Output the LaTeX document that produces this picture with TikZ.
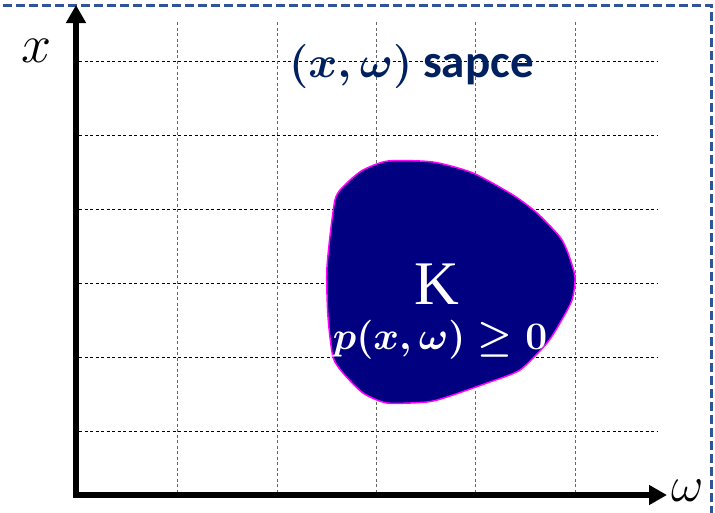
\documentclass[tikz,border=0pt]{standalone}
\usepackage{fix-cm}
\usepackage{amsmath}
\usepackage{fontspec}
\newfontfamily\carlitofont{Carlito}
\newfontfamily\kfont{Liberation Serif}
\usetikzlibrary{arrows.meta}
\definecolor{navy}{RGB}{0,0,128}
\definecolor{titleblue}{RGB}{0,32,96}
\definecolor{frameblue}{RGB}{47,85,151}
\definecolor{blobedge}{RGB}{255,0,255}
\begin{document}
\begin{tikzpicture}[x=1pt,y=-1pt,
  gridh/.style={black, line width=0.9pt, dash pattern=on 3pt off 2.5pt},
  gridv/.style={black!60, line width=1pt, dash pattern=on 3pt off 2.5pt},
  axisline/.style={line width=6pt, line join=miter,
    {Triangle[length=18pt,width=19pt]}-{Triangle[length=18pt,width=19pt]}},
  framestyle/.style={frameblue, line width=3pt, dash pattern=on 9pt off 4pt},
  blobstyle/.style={fill=navy, draw=blobedge, line width=1.5pt},
  lbl/.style={anchor=base, inner sep=0pt}
]
\useasboundingbox (0,0) rectangle (715,512);
% frame (partly outside the picture)
\coordinate (fa) at (-10,5);
\coordinate (fb) at (711,5);
\coordinate (fc) at (711,530);
\draw[framestyle] (fa) -- (fb) -- (fc);
% grid
\foreach \y in {61,135,209,283,357,431} \draw[gridh] (79,\y) -- (658,\y);
\foreach \x in {177.5,277,376,475,575.5} \draw[gridv] (\x,22) -- (\x,492);
% region K
\path[blobstyle] plot[smooth cycle, tension=0.4] coordinates {(388,161) (433,162) (473,173) (513,195) (537,213) (560,237) (568,253) (575,277) (572,300) (560,323) (547,343) (520,370) (487,383) (447,397) (427,402) (387,403) (363,393) (343,373) (333,357) (328,317) (327,267) (335,200) (347,183) (363,170)};
% axes
\coordinate (O) at (76,495);
\coordinate (xtip) at (76,5);
\coordinate (wtip) at (667,495);
\draw[axisline] (xtip) -- (O) -- (wtip);
% labels
\node[lbl, font=\fontsize{54}{54}\selectfont] (xl) at (36.5,62) {$x$};
\node[lbl, font=\fontsize{50}{50}\selectfont] (wl) at (688,501) {$\omega$};
\node[lbl, anchor=base west, text=titleblue, font=\fontsize{44}{44}\selectfont] (titlemath) at (289,77) {$\boldsymbol{(x,\omega)}$};
\node[lbl, anchor=base west, text=titleblue, font=\carlitofont\bfseries\fontsize{47}{47}\selectfont] (titletext) at (423,77) {sapce};
\node[lbl, text=white, font=\kfont\fontsize{62}{62}\selectfont] (K) at (437,304) {K};
\node[lbl, text=white, font=\fontsize{39}{39}\selectfont] (cond) at (440,349) {$\boldsymbol{p(x,\omega)\geq 0}$};
\end{tikzpicture}
\end{document}
